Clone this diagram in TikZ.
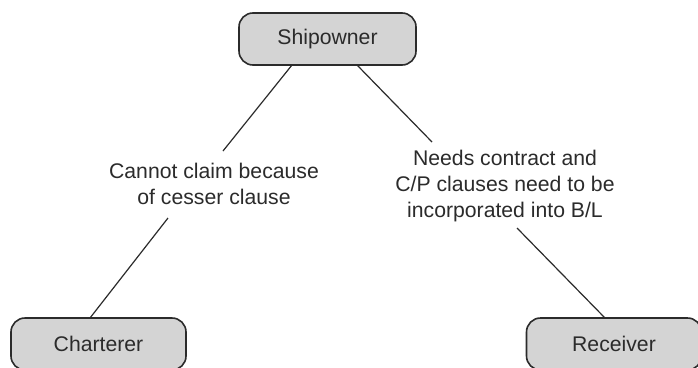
\documentclass[tikz,border=0pt]{standalone}
\usepackage{fontspec}
\setmainfont{Liberation Sans}
\definecolor{boxfill}{HTML}{D4D4D4}
\definecolor{ink}{HTML}{2B2B2B}
\begin{document}
\begin{tikzpicture}[x=1pt,y=-1pt,
  box/.style={draw=ink, line width=1.6pt, fill=boxfill, rounded corners=14pt,
    minimum width=175pt, minimum height=52pt, inner sep=0pt, text=ink,
    font=\fontsize{21.2}{26}\selectfont},
  lbl/.style={align=center, text=ink, inner sep=0pt,
    font=\fontsize{21.2}{26}\selectfont},
  conn/.style={draw=ink, line width=1.2pt}]
\useasboundingbox (0,0) rectangle (698,367);
\clip (0,0) rectangle (698,367);
\fill[white] (0,0) rectangle (698,367);
% nodes
\node[box, minimum width=177pt] (ship) at (327.5,39) {Shipowner};
\node[box] (char) at (98.5,344) {Charterer};
\node[box] (recv) at (614,344) {Receiver};
\node[lbl] (lab1) at (214,184) {Cannot claim because\\of cesser clause};
\node[lbl] (lab2) at (505,186) {Needs contract and\\C/P clauses need to be\\incorporated into B/L};
% connector end points
\coordinate (s1) at (292,65);
\coordinate (l1a) at (223,151);
\coordinate (l1b) at (168,218);
\coordinate (c1) at (90,318);
\coordinate (s2) at (357,65);
\coordinate (l2a) at (432,142);
\coordinate (l2b) at (517,228);
\coordinate (r1) at (605,318);
% connectors
\draw[conn] (s1) -- (l1a);
\draw[conn] (l1b) -- (c1);
\draw[conn] (s2) -- (l2a);
\draw[conn] (l2b) -- (r1);
\end{tikzpicture}
\end{document}
